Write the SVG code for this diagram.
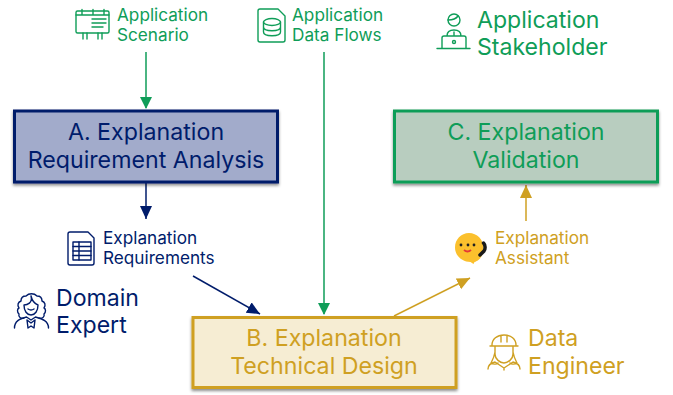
<svg xmlns="http://www.w3.org/2000/svg" width="673" height="395" viewBox="0 0 673 395">
<style>
text{font-family:Inter,"Noto Sans",sans-serif}
.c{text-anchor:middle;font-size:23.2px}
.big{font-size:23.1px}
.sm{font-size:17.2px}
.n{fill:#001c6b}.g{fill:#0f9d58}.y{fill:#cfa022}
.ic{fill:none;stroke-width:1.4;stroke-linecap:round;stroke-linejoin:round}
.in{stroke:#001c6b}.ig{stroke:#0f9d58}.iy{stroke:#cfa022}
.box{stroke-width:3;filter:url(#sh)}
.ln{fill:none;stroke-width:1.5}
</style>
<defs>
<filter id="sh" x="-5%" y="-10%" width="110%" height="125%"><feDropShadow dx="0" dy="2" stdDeviation="1.5" flood-color="#000" flood-opacity=".45"/></filter>
<marker id="mg" markerUnits="userSpaceOnUse" markerWidth="12" markerHeight="15" refX="11" refY="6" orient="auto"><path d="M0 0L12 6L0 12z" fill="#0f9d58"/></marker>
<marker id="mn" markerUnits="userSpaceOnUse" markerWidth="15" markerHeight="15" refX="13" refY="6" orient="auto"><path d="M0 0L13 6L0 12z" fill="#001c6b"/></marker>
<marker id="my" markerUnits="userSpaceOnUse" markerWidth="15" markerHeight="15" refX="13" refY="6" orient="auto"><path d="M0 0L13 6L0 12z" fill="#cfa022"/></marker>
</defs>
<g id="connectors">
<path class="ln" stroke="#0f9d58" d="M146 52V108" marker-end="url(#mg)"/>
<path class="ln" stroke="#001c6b" d="M146 183V219" marker-end="url(#mn)"/>
<path class="ln" stroke="#001c6b" d="M193 276L260 314" marker-end="url(#mn)"/>
<path class="ln" stroke="#0f9d58" d="M324 52V314" marker-end="url(#mg)"/>
<path class="ln" stroke="#cfa022" d="M394 316L470 278" marker-end="url(#my)"/>
<path class="ln" stroke="#cfa022" d="M526 221V185" marker-end="url(#my)"/>
</g>
<g id="node-a"><rect class="box" x="14.500" y="111" width="263" height="71" fill="#a2abcb" stroke="#001c6b"/>
<text class="c n" x="146" y="140">A. Explanation</text><text class="c n" x="146" y="168">Requirement Analysis</text></g>
<g id="node-c"><rect class="box" x="394.500" y="111" width="263" height="71" fill="#b8cdbf" stroke="#0f9d58"/>
<text class="c g" x="526" y="140">C. Explanation</text><text class="c g" x="526" y="168">Validation</text></g>
<g id="node-b"><rect class="box" x="193" y="317.500" width="263" height="70" fill="#f6edd3" stroke="#cfa022"/>
<text class="c y" x="324" y="346">B. Explanation</text><text class="c y" x="324" y="374">Technical Design</text></g>
<g id="scenario">
<g class="ic ig"><rect x="76" y="11" width="33" height="22" rx="1.500"/><path d="M76 15H109M82 9.500v5M93 9.500v5M104 9.500v5M92 19H106M92 23H106M92 27H103M83 33v6M87 33v6M98 33v6M102 33v6"/></g>
<text class="sm g" x="117" y="21">Application</text><text class="sm g" x="117" y="41">Scenario</text></g>
<g id="flows">
<g class="ic ig"><path d="M258 11a2 2 0 0 1 2-2h18l7 7v24a2 2 0 0 1-2 2H260a2 2 0 0 1-2-2z"/><ellipse cx="272" cy="22" rx="8.500" ry="3.500"/><path d="M263.500 22v10c0 5 17 5 17 0V22M263.500 27c0 5 17 5 17 0"/></g>
<text class="sm g" x="292" y="21">Application</text><text class="sm g" x="292" y="41">Data Flows</text></g>
<g id="stakeholder">
<g class="ic ig"><circle cx="454" cy="20" r="6"/><path d="M448 20c4 0 8-1 10-4M447 36c0-4 3-6 7-6s7 2 7 6M454 32v3M442 48V38a2 2 0 0 1 2-2h20a2 2 0 0 1 2 2v10M437 48.500H470"/><circle cx="454" cy="42" r="1.500"/></g>
<text class="big g" x="477" y="28">Application</text><text class="big g" x="477" y="55">Stakeholder</text></g>
<g id="requirements">
<g class="ic in"><path d="M68 234a2 2 0 0 1 2-2h18l6 6v25a2 2 0 0 1-2 2H70a2 2 0 0 1-2-2z"/><rect x="73" y="242" width="18" height="18"/><path d="M73 246.500H91M73 251H91M73 255.500H91M79 242v18"/></g>
<text class="sm n" x="103" y="244">Explanation</text><text class="sm n" x="103" y="264">Requirements</text></g>
<g id="domain-expert">
<g class="ic in"><path d="M24 318c-3 1-6-1-5-4-2-2-2-5 0-6-2-3-1-6 2-7 0-4 3-5 5-5 3-3 8-3 11 0 2 0 5 1 5 5 3 1 4 4 2 7 2 1 2 4 0 6 1 3-2 5-5 4"/><path d="M24 305c3 0 9-2 7-9 1 4 4 8 7 9 0 6-3 10-7 10s-7-4-7-10zM28 309q3 2 6 0"/><path d="M14.500 328c0-7 5-9 12-11l4.500 3 4.500-3c7 2 13 4 13 11M27 320l4 3 4-3-1 8-3-2-3 2z"/></g>
<text class="big n" x="56" y="306">Domain</text><text class="big n" x="56" y="333">Expert</text></g>
<g id="assistant">
<path d="M469 233c8 0 14.500 6.500 14.500 15s-5 13-9 14l-1 2-3-2c-8 0-15.500-6-15.500-14.500 0-8 6-14.500 14-14.500z" fill="#fbc02d"/>
<circle cx="461" cy="245" r="1.400" fill="#222"/><circle cx="468" cy="245" r="1.400" fill="#222"/><circle cx="474" cy="245" r="1.400" fill="#222"/>
<path d="M464 250q3.500 3 7 0" fill="none" stroke="#e53935" stroke-width="1.800"/>
<path d="M483.500 243c2 2 2 6 .5 8l-4 4" fill="none" stroke="#1a1a1a" stroke-width="3.500" stroke-linecap="round"/>
<text class="sm y" x="495" y="244">Explanation</text><text class="sm y" x="495" y="264">Assistant</text></g>
<g id="data-engineer">
<g class="ic iy"><path d="M492 345c0-6 5-10 12-10s12 4 12 10M490 346H518M501 336v6M507 336v6M495 347v7c0 5 5 9 9 9s9-4 9-9v-7M495 352c-1 6-3 9-4 11 3 2 6 1 7 0M513 352c1 6 3 9 4 11-3 2-6 1-7 0M488 369c0-4 3-6 7-7l9 6 9-6c4 1 7 3 7 7M504 368v2"/></g>
<text class="big y" x="528" y="346">Data</text><text class="big y" x="528" y="374">Engineer</text></g>
</svg>
